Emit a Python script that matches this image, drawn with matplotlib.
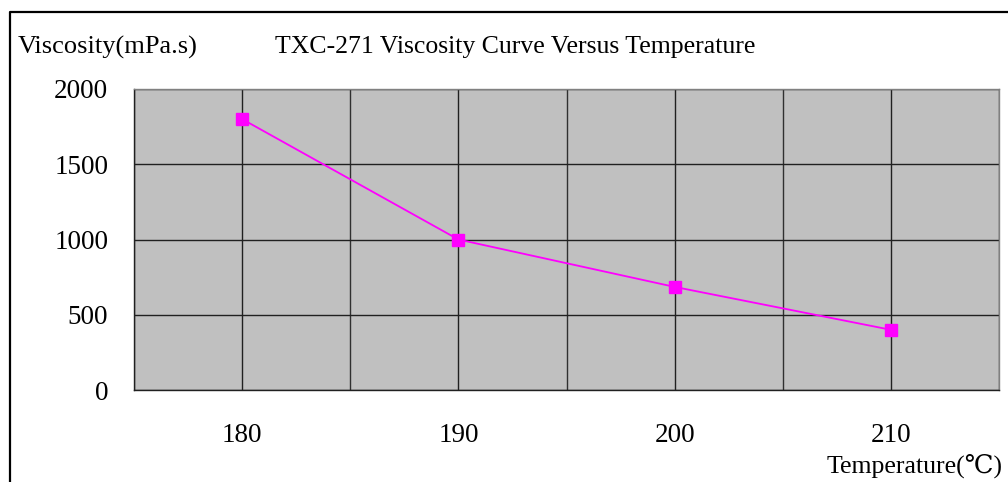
import matplotlib
matplotlib.use('Agg')
import matplotlib.pyplot as plt
from matplotlib.lines import Line2D

# data
temps = [180, 190, 200, 210]
viscosity = [1800, 1000, 685, 400]
xticks = [180, 190, 200, 210]
yticks = [0, 500, 1000, 1500, 2000]

plt.rcParams['font.family'] = ['Liberation Serif', 'DejaVu Serif']

W, H = 1008, 482
fig = plt.figure(figsize=(W / 100, H / 100), dpi=100)

# plot area in pixels: left 134, right 999, top 89, bottom 390
ax = fig.add_axes([134 / W, (H - 390) / H, 865 / W, 301 / H])
ax.set_facecolor('#c0c0c0')
ax.plot(temps, viscosity, color='#ff00ff', lw=1.3, marker='s', ms=8.5,
        mfc='#ff00ff', mec='#ff00ff', zorder=3)

ax.set_xlim(175, 215)
ax.set_ylim(0, 2000)
ax.set_xticks(xticks)
ax.set_xticks(range(175, 216, 5), minor=True)
ax.set_yticks(yticks)
ax.grid(True, which='major', color='#202020', lw=1)
ax.grid(True, which='minor', axis='x', color='#303030', lw=1)
ax.tick_params(which='both', length=0, labelsize=19.5)
ax.tick_params(axis='x', pad=23.5)
ax.tick_params(axis='y', pad=18.5)
for s in ax.spines.values():
    s.set_color('#808080')
    s.set_linewidth(1)
ax.spines['left'].set_color('#202020')
ax.spines['bottom'].set_color('#202020')

# texts
fig.text(18 / W, 1 - 47 / H, 'Viscosity(mPa.s)', fontsize=19, va='center', ha='left')
fig.text(275 / W, 1 - 47 / H, 'TXC-271 Viscosity Curve Versus Temperature',
         fontsize=18.5, va='center', ha='left')
fig.text(827 / W, 1 - 466 / H, 'Temperature(\u2103)', fontsize=18.5, va='center', ha='left')

# outer chart frame (left and top edges visible)
fig.add_artist(Line2D([9.5 / W, 9.5 / W, 1], [0, 1 - 11.5 / H, 1 - 11.5 / H],
                      transform=fig.transFigure, color='black', lw=1.6))

fig.savefig('out.png', dpi=100)
